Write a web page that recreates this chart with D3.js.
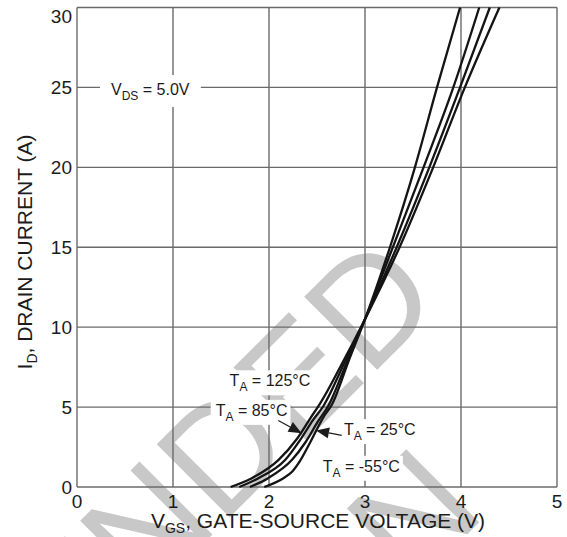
<!DOCTYPE html>
<html><head><meta charset="utf-8">
<script src="https://cdn.jsdelivr.net/npm/d3@7"></script>
<style>
html,body{margin:0;padding:0;background:#fff;}
svg{display:block;font-family:"Liberation Sans",Arial,Helvetica,sans-serif;}
</style>
</head><body>
<svg id="c" width="567" height="537"></svg>
<script>
// ---- data ----
const xTicks = [0, 1, 2, 3, 4, 5];
const yTicks = [0, 5, 10, 15, 20, 25, 30];
const seriesLabels = ["125°C", "85°C", "25°C", "-55°C"];
const vgs125 = [1.60, 1.82, 2.10, 2.29, 2.43, 2.53, 2.75, 3.00, 3.36, 3.71, 4.04, 4.40];
const id125  = [0, 0.55, 1.7, 3.0, 4.3, 5.2, 7.6, 10.5, 15, 20, 25, 30];
const vgs85  = [1.69, 1.89, 2.17, 2.32, 2.46, 2.57, 2.78, 3.00, 3.33, 3.67, 3.99, 4.30];
const id85   = [0, 0.55, 1.7, 2.9, 4.2, 5.1, 7.7, 10.5, 15, 20, 25, 30];
const vgs25  = [1.80, 1.99, 2.24, 2.38, 2.51, 2.62, 2.81, 3.00, 3.29, 3.61, 3.92, 4.19];
const id25   = [0, 0.55, 1.7, 2.8, 4.1, 5.1, 7.8, 10.5, 15, 20, 25, 30];
const vgsM55 = [1.95, 2.15, 2.24, 2.32, 2.43, 2.58, 2.65, 2.83, 3.00, 3.26, 3.52, 3.75, 3.99];
const idM55  = [0, 0.55, 0.95, 1.6, 2.8, 4.5, 5.1, 7.9, 10.5, 15, 20, 25, 30];
const xTitle = ["V", "GS", ", GATE-SOURCE VOLTAGE (V)"];
const yTitle = ["I", "D", ", DRAIN CURRENT (A)"];
const vdsLabel = ["V", "DS", " = 5.0V"];
const watermarkLines = ["NOT RECOMMENDED", "FOR NEW DESIGN"];

// ---- layout ----
const svg = d3.select("#c");
const x = d3.scaleLinear().domain([0, 5]).range([77, 557]);
const y = d3.scaleLinear().domain([0, 30]).range([487, 7.5]);
const ink = "#1c1c1c";
const gridCol = "#6a6a6a";

// watermark
const wm = svg.append("g").attr("transform", "translate(445,302) rotate(-45)")
  .attr("fill", "#c8c8c8").attr("font-size", 150);
const l1 = wm.append("text").attr("text-anchor", "end").attr("x", 0).attr("y", 0).text(watermarkLines[0]);
const w1 = l1.node().getComputedTextLength();
wm.append("text").attr("text-anchor", "middle").attr("x", -w1 / 2).attr("y", 180).text(watermarkLines[1]);

// grid
const grid = svg.append("g").attr("stroke", gridCol).attr("stroke-width", 1.4);
grid.selectAll("line.v").data(xTicks).join("line")
  .attr("x1", d => x(d)).attr("x2", d => x(d)).attr("y1", y(30)).attr("y2", y(0));
grid.selectAll("line.h").data(yTicks).join("line")
  .attr("y1", d => y(d)).attr("y2", d => y(d)).attr("x1", x(0)).attr("x2", x(5));

// tick labels
svg.append("g").attr("font-size", 19).attr("fill", ink).attr("text-anchor", "end")
  .selectAll("text").data(yTicks).join("text")
  .attr("x", 72).attr("y", d => Math.max(y(d), 16)).attr("dy", "0.36em").text(d => d);
svg.append("g").attr("font-size", 19).attr("fill", ink).attr("text-anchor", "middle")
  .selectAll("text").data(xTicks).join("text")
  .attr("x", d => x(d)).attr("y", 507.5).text(d => d);

// axis titles
function subText(sel, parts, subSize, shift) {
  sel.append("tspan").text(parts[0]);
  sel.append("tspan").attr("font-size", subSize).attr("dy", shift).text(parts[1]);
  sel.append("tspan").attr("dy", -shift).text(parts[2]);
}
const xt = svg.append("text").attr("font-size", 21).attr("fill", ink).attr("text-anchor", "middle")
  .attr("x", x(2.5) + 1).attr("y", 528);
subText(xt, xTitle, 14, 5);
const yt = svg.append("text").attr("font-size", 21).attr("fill", ink).attr("text-anchor", "middle")
  .attr("transform", "translate(32,252) rotate(-90)");
subText(yt, yTitle, 14, 5);

// labels with white boxes
function label(parts, px, py, padX, padY, subShift) {
  const g = svg.append("g");
  const r = g.append("rect").attr("fill", "#fff");
  const t = g.append("text").attr("font-size", 16).attr("fill", ink).attr("x", px).attr("y", py);
  subText(t, parts, 12, subShift);
  const b = t.node().getBBox();
  r.attr("x", b.x - padX[0]).attr("y", b.y - padY[0])
   .attr("width", b.width + padX[0] + padX[1]).attr("height", b.height + padY[0] + padY[1]);
  return g;
}
label(vdsLabel, 111, 95, [11, 11], [6, 4], 5);
label(["T", "A", " = " + seriesLabels[0]], x(1.6) - 1, y(6.3), [4, 3], [2, 1], 5);
label(["T", "A", " = " + seriesLabels[1]], x(1.45) - 0.5, y(4.45), [5, 3], [2, 1], 5);
label(["T", "A", " = " + seriesLabels[2]], x(2.78), y(3.25), [3, 3], [2, 1], 5);
label(["T", "A", " = " + seriesLabels[3]], x(2.56), y(0.95), [3, 3], [2, 1], 5);

// curves
const line = d3.line().x(d => x(d[0])).y(d => y(d[1])).curve(d3.curveMonotoneX);
const series = [[vgs125, id125], [vgs85, id85], [vgs25, id25], [vgsM55, idM55]];
svg.append("g").attr("fill", "none").attr("stroke", "#141414").attr("stroke-width", 2.3)
  .attr("stroke-linejoin", "round")
  .selectAll("path").data(series).join("path")
  .attr("d", s => line(d3.zip(s[0], s[1])));

// arrows
function arrow(x0, y0, x1, y1) {
  const X0 = x(x0), Y0 = y(y0), X1 = x(x1), Y1 = y(y1);
  const a = Math.atan2(Y1 - Y0, X1 - X0), L = 13, W = 5.5;
  const bx = X1 - L * Math.cos(a), by = Y1 - L * Math.sin(a);
  svg.append("line").attr("x1", X0).attr("y1", Y0).attr("x2", bx).attr("y2", by)
    .attr("stroke", ink).attr("stroke-width", 1.3);
  svg.append("path").attr("fill", ink)
    .attr("d", `M${X1},${Y1}L${bx + W * Math.sin(a)},${by - W * Math.cos(a)}L${bx - W * Math.sin(a)},${by + W * Math.cos(a)}Z`);
}
arrow(2.097, 4.16, 2.34, 3.37);
arrow(2.757, 3.23, 2.49, 3.54);
</script>
</body></html>
